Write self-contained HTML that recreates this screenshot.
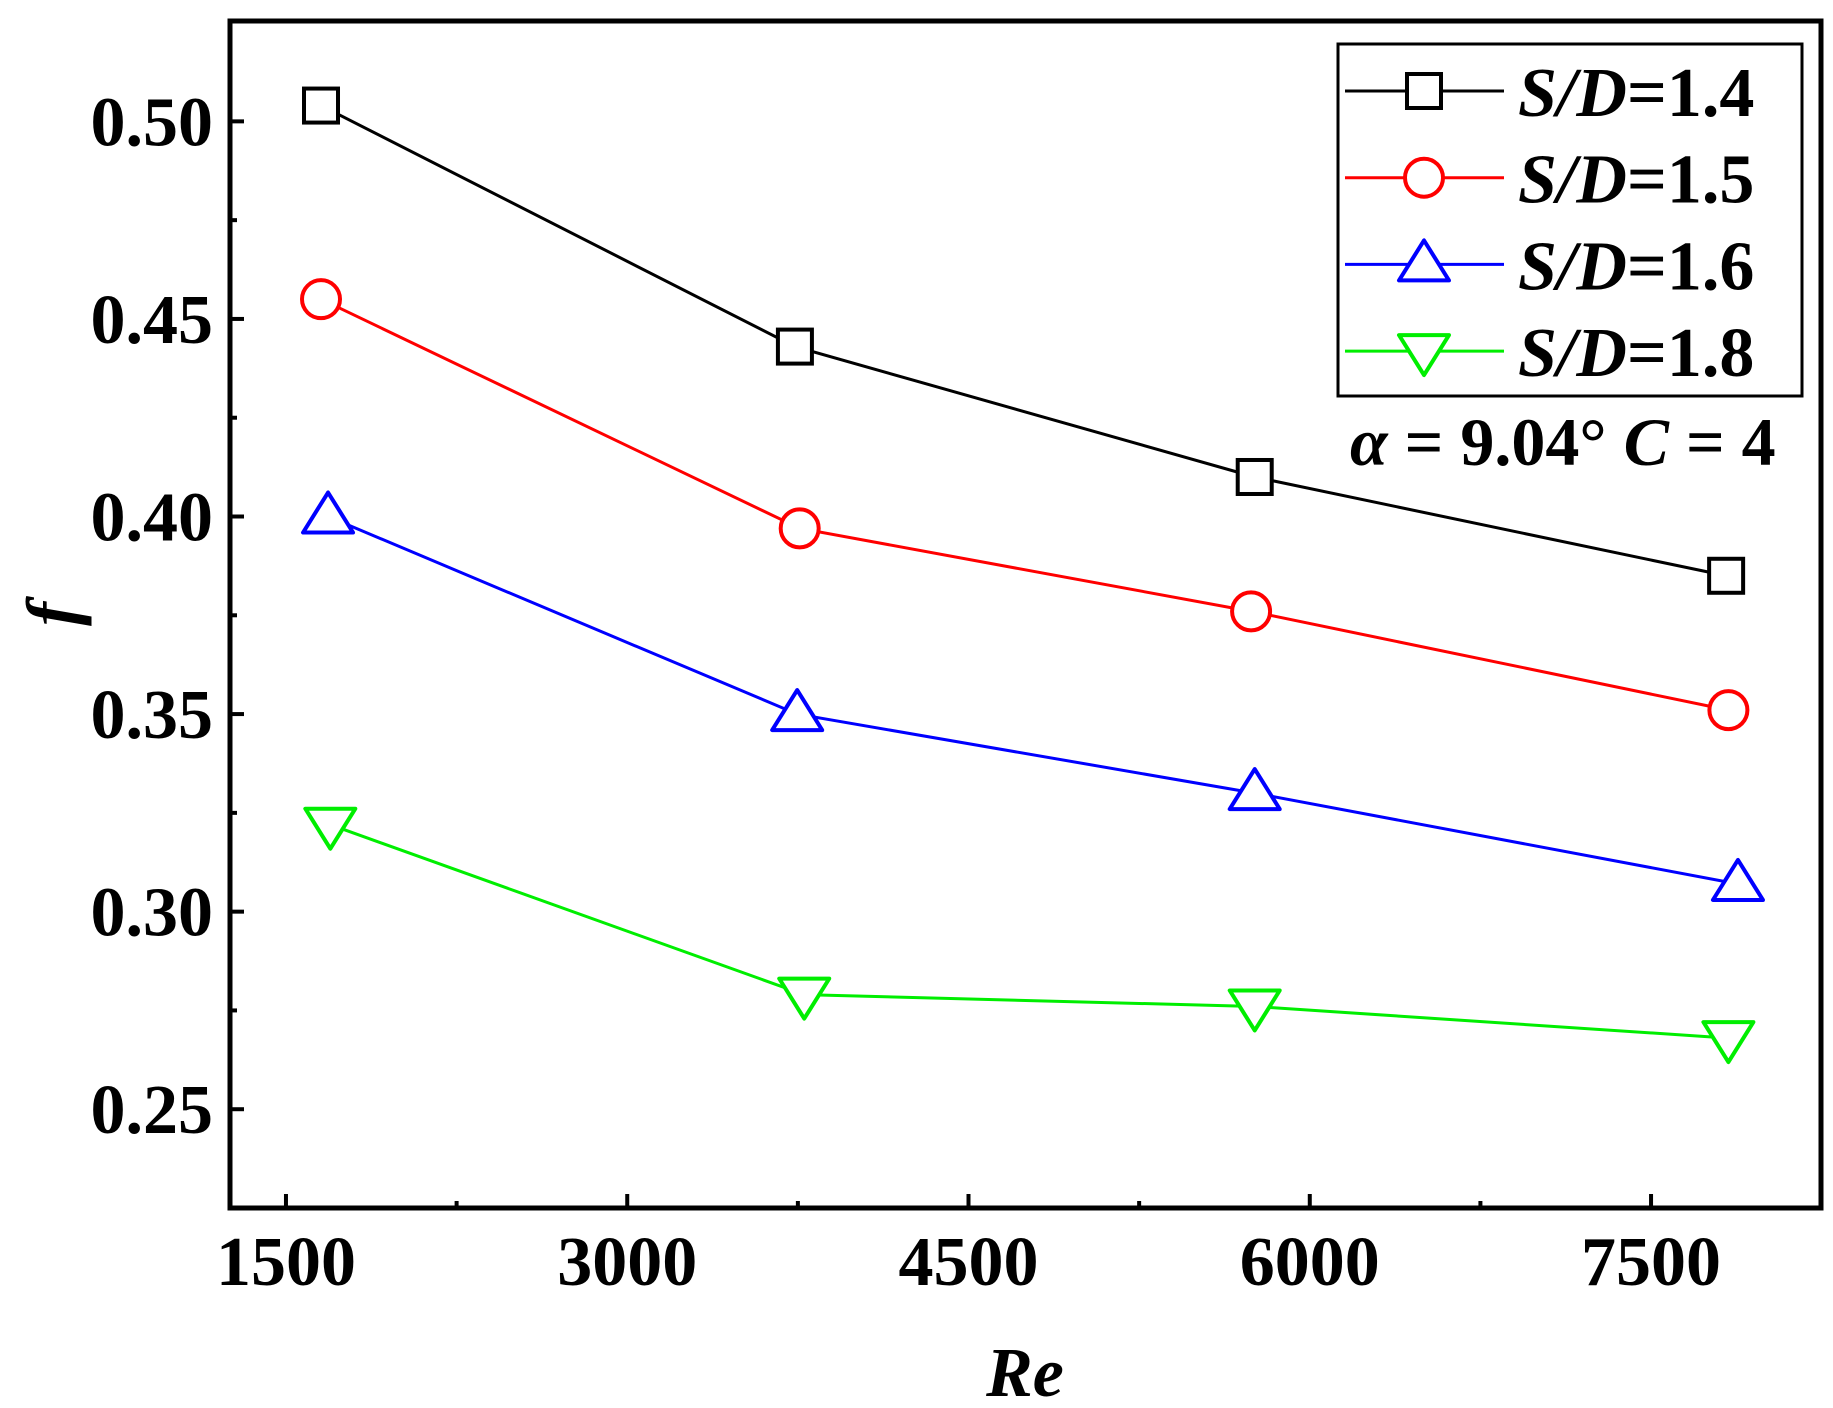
<!DOCTYPE html>
<html><head><meta charset="utf-8"><style>
html,body{margin:0;padding:0;background:#fff;}
svg{display:block;font-family:"Liberation Serif",serif;font-weight:bold;}
</style></head><body>
<svg id="chart" width="1833" height="1408" viewBox="0 0 1833 1408" xmlns="http://www.w3.org/2000/svg">
<g id="axes"></g>
<g id="series"></g>
<g id="legend">
<rect x="1338" y="44" width="464" height="352" fill="#fff" stroke="#000" stroke-width="3"/>
</g>
<text x="1350" y="465" font-size="68"><tspan font-style="italic">α</tspan> = 9.04° <tspan font-style="italic">C</tspan> = 4</text>
<text x="62" y="628" font-size="72" font-style="italic" text-anchor="middle" transform="rotate(-90 62 614)">f</text>
<text x="1025" y="1396" font-size="70" font-style="italic" text-anchor="middle">Re</text>
</svg>
<script>
const names = ['S/D=1.4','S/D=1.5','S/D=1.6','S/D=1.8'];
const colors = ['#000000','#ff0000','#0000ff','#00ee00'];
const markers = ['square','circle','up','down'];
const xBlack = [1654, 3737, 5758, 7830];
const yBlack = [0.504, 0.443, 0.410, 0.385];
const xRed = [1654, 3758, 5742, 7840];
const yRed = [0.455, 0.397, 0.376, 0.351];
const xBlue = [1685, 3747, 5758, 7882];
const yBlue = [0.400, 0.350, 0.330, 0.307];
const xGreen = [1695, 3778, 5758, 7840];
const yGreen = [0.322, 0.279, 0.276, 0.268];
const xTicks = [1500, 3000, 4500, 6000, 7500];
const xMinor = [2250, 3750, 5250, 6750];
const yTicks = [0.25, 0.30, 0.35, 0.40, 0.45, 0.50];
const yTickLabels = ['0.25','0.30','0.35','0.40','0.45','0.50'];
const yMinor = [0.225, 0.275, 0.325, 0.375, 0.425, 0.475];

const NS='http://www.w3.org/2000/svg';
const L=230,R=1821,T=21,B=1208;
const xMin=1254,xMax=8247,yMin=0.225,yMax=0.5254;
const sx=v=>L+(v-xMin)/(xMax-xMin)*(R-L);
const sy=v=>B-(v-yMin)/(yMax-yMin)*(B-T);
function mk(tag,attrs,parent){const e=document.createElementNS(NS,tag);for(const k in attrs)e.setAttribute(k,attrs[k]);parent.appendChild(e);return e;}
const axes=document.getElementById('axes');
const fr=mk('rect',{x:L,y:T,width:R-L,height:B-T,fill:'none',stroke:'#000','stroke-width':5},axes);


xTicks.forEach(v=>{
  const t=mk('line',{x1:sx(v),x2:sx(v),y1:B,y2:B-14,stroke:'#000','stroke-width':4},axes);
  
  
  const l=mk('text',{x:sx(v),y:B+77,'font-size':70,'text-anchor':'middle'},axes);
  l.textContent=String(v);
  
  
});
xMinor.forEach(v=>{
  const t=mk('line',{x1:sx(v),x2:sx(v),y1:B,y2:B-7,stroke:'#000','stroke-width':4},axes);
  
  
});
yTicks.forEach((v,i)=>{
  const t=mk('line',{x1:L,x2:L+14,y1:sy(v),y2:sy(v),stroke:'#000','stroke-width':4},axes);
  
  
  const l=mk('text',{x:L-17,y:sy(v)+24,'font-size':70,'text-anchor':'end'},axes);
  l.textContent=yTickLabels[i];
  
  
});
yMinor.forEach(v=>{
  const t=mk('line',{x1:L,x2:L+7,y1:sy(v),y2:sy(v),stroke:'#000','stroke-width':4},axes);
  
  
});
function marker(type,cx,cy,color,parent){
  let e;
  if(type==='square') e=mk('rect',{x:cx-17,y:cy-17,width:34,height:34,fill:'#fff',stroke:color,'stroke-width':4},parent);
  else if(type==='circle') e=mk('circle',{cx:cx,cy:cy,r:19,fill:'#fff',stroke:color,'stroke-width':4},parent);
  else if(type==='up') e=mk('polygon',{points:`${cx},${cy-24} ${cx-25},${cy+16} ${cx+25},${cy+16}`,fill:'#fff',stroke:color,'stroke-width':4,'stroke-linejoin':'round'},parent);
  else e=mk('polygon',{points:`${cx},${cy+24} ${cx-25},${cy-16} ${cx+25},${cy-16}`,fill:'#fff',stroke:color,'stroke-width':4,'stroke-linejoin':'round'},parent);
  return e;
}
const seriesG=document.getElementById('series');
const xs=[xBlack,xRed,xBlue,xGreen], ys=[yBlack,yRed,yBlue,yGreen];
xs.forEach((xa,s)=>{
  const g=mk('g',{},seriesG);
  
  
  const pts=xa.map((x,i)=>sx(x)+','+sy(ys[s][i])).join(' ');
  const pl=mk('polyline',{points:pts,fill:'none',stroke:colors[s],'stroke-width':3},g);
  
  
  xa.forEach((x,i)=>{
    const m=marker(markers[s],sx(x),sy(ys[s][i]),colors[s],g);
    
    
  });
});
const lg=document.getElementById('legend');
names.forEach((n,i)=>{
  const cy=91+i*86.7;
  const g=mk('g',{},lg);
  
  
  mk('line',{x1:1345,x2:1504,y1:cy,y2:cy,stroke:colors[i],'stroke-width':3},g);
  marker(markers[i],1424,cy,colors[i],g);
  const t=mk('text',{x:1518,y:cy+25,'font-size':70},g);
  t.innerHTML='<tspan font-style="italic">S/D</tspan>'+n.slice(3);
});
</script>
</body></html>
